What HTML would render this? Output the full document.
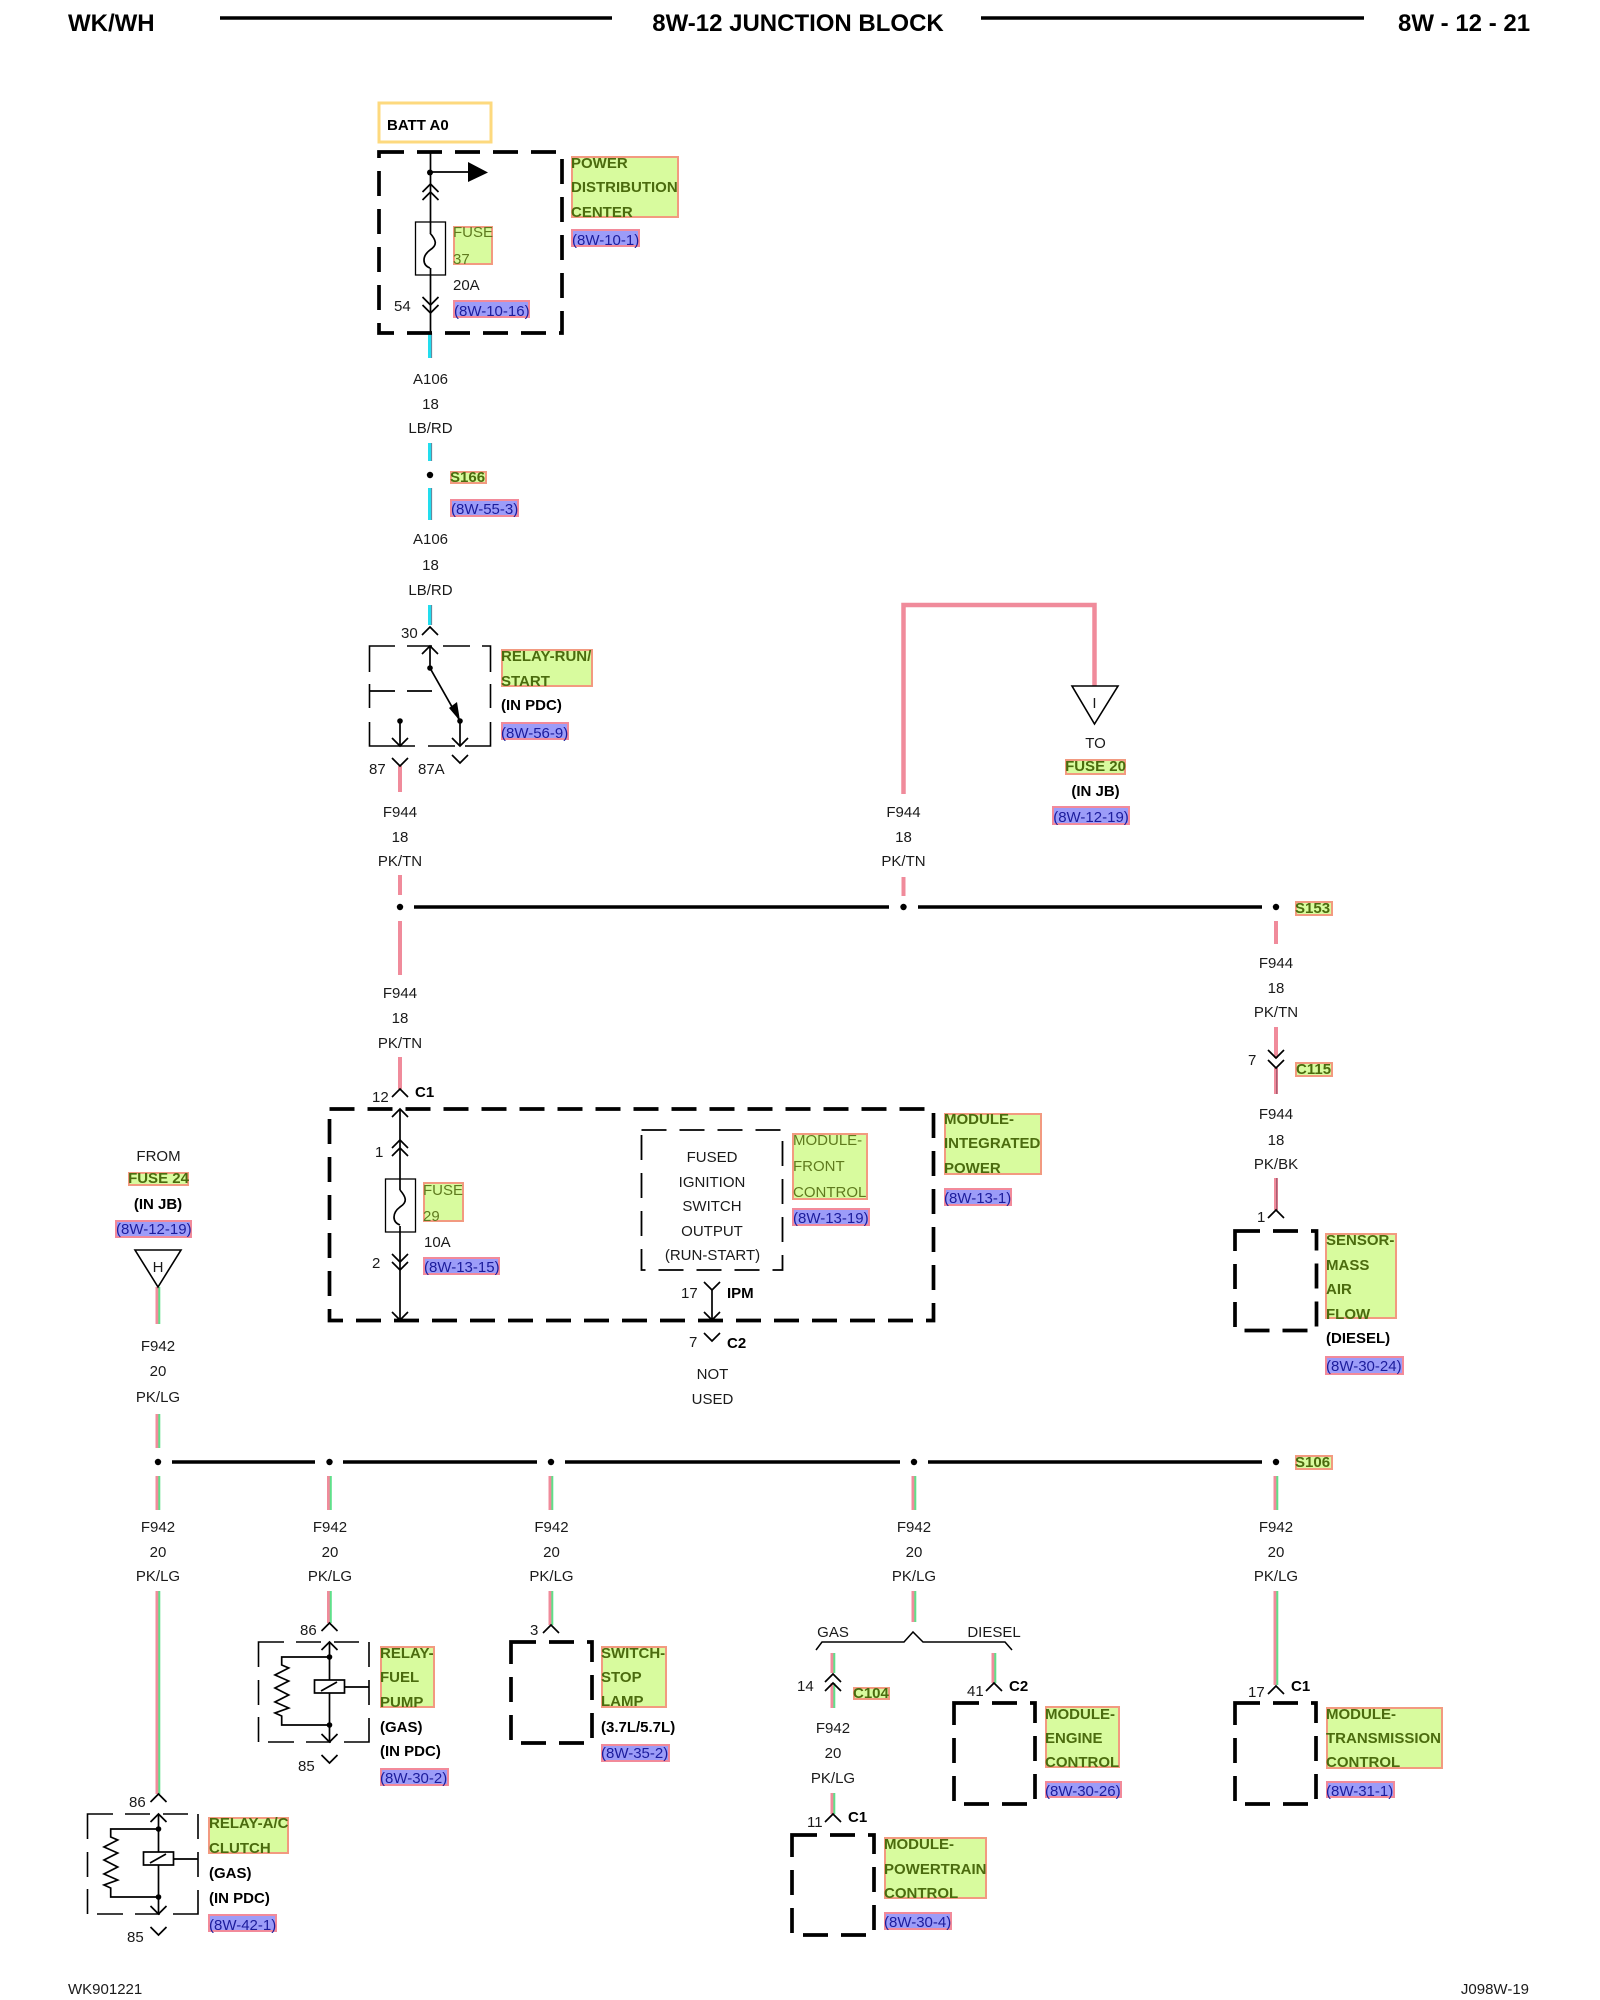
<!DOCTYPE html>
<html><head><meta charset="utf-8"><style>
html,body{margin:0;padding:0;background:#fff}
svg{display:block}
text{font-family:"Liberation Sans",sans-serif;font-size:15px;fill:#1a1a1a}
.b{font-weight:bold;fill:#000}
.c{text-anchor:middle}
.gt{fill:#4b6b0e;font-weight:bold}
.gr{fill:#5f7a1e}
.bt{fill:#1c1c9c}
.g{fill:#d8fb9e;stroke:#f29a80;stroke-width:2}
.l{fill:#9c9cf8;stroke:#f28a9a;stroke-width:2}
.h{font-size:24px;font-weight:bold;fill:#000}
.t{fill:none;stroke:#000;stroke-width:1.7}
.m{fill:none;stroke:#000;stroke-width:3.7;stroke-dasharray:25 13}
.s{fill:none;stroke:#000;stroke-width:1.6;stroke-dasharray:25 13}
.p{fill:none;stroke:#000;stroke-width:1.6}
.n{fill:#000}
</style></head><body>
<svg xmlns="http://www.w3.org/2000/svg" width="1600" height="2000" viewBox="0 0 1600 2000">
<defs>
<path id="u" d="M-8 8L0 0L8 8"/>
<path id="d" d="M-8 -8L0 0L8 -8"/>
<path id="w2" d="M158 1287V1324M158 1414V1448M158 1476V1510M158 1591V1794M329.500 1476V1510M329.500 1591V1623M551 1476V1510M551 1591V1625M914 1476V1510M914 1591V1622M1276 1476V1510M1276 1591V1685M833 1653V1673M833 1683V1708M833 1793V1814M994 1653V1683"/>
<g id="relay">
<path class="p" d="M87.500 1839V1814H113M125 1814H150M163 1814H188M198 1814V1839M198 1852V1877M198 1890V1914H173M160 1914H135M123 1914H97M87.500 1914V1889M87.500 1877V1852"/>
<path class="t" d="M158.500 1814V1852M158.500 1865V1914M158.500 1829H110.700V1837L117.700 1840L104 1847L117.700 1853L104 1860L117.700 1867L104 1874L117.700 1880L104 1885L110.700 1888V1897H158.500M173.500 1859H198M150 1863L166 1854"/>
<rect class="t" x="143.500" y="1852" width="30" height="13"/>
<circle class="n" cx="158.500" cy="1829" r="2.800"/><circle class="n" cx="158.500" cy="1897" r="2.800"/>
<g class="t"><use href="#u" x="158.500" y="1814"/><use href="#d" x="158.500" y="1914"/></g>
</g>
<g id="fuse">
<path class="t" d="M430 233C436 240 438 245 430 250C422 256 422 265 430 268"/>
<rect class="t" style="stroke-width:1.3" x="415.500" y="222" width="30" height="53"/>
</g>
</defs>

<!-- header -->
<text class="h" x="68" y="31">WK/WH</text>
<text class="h c" x="798" y="31">8W-12 JUNCTION BLOCK</text>
<text class="h" x="1398" y="31">8W - 12 - 21</text>
<path d="M220 18H612M981 18H1364" stroke="#000" stroke-width="3.500" fill="none"/>
<text x="68" y="1994" style="font-size:15px">WK901221</text>
<text x="1529" y="1994" text-anchor="end" style="font-size:15px">J098W-19</text>

<!-- wires: cyan -->
<path d="M430 333V358M430 443V461M430 488V520M430 605V625" stroke="#22ddee" stroke-width="4" fill="none"/>
<path d="M431.700 333V358M431.700 443V461M431.700 488V520M431.700 605V625" stroke="#7a6a80" stroke-width="0.800" fill="none"/>
<!-- wires: pink -->
<path d="M400 766V792M400 875V895M400 921V975M400 1057V1089M903.500 877V896M1276 921V944M1276 1027V1058M1276 1068V1094M1276 1178V1210" stroke="#f08b9b" stroke-width="4" fill="none"/>
<path d="M1276.800 1068V1094M1276.800 1178V1210" stroke="#8a4a62" stroke-width="1" fill="none"/>
<path d="M903.500 794V605H1094.500V686" stroke="#f08b9b" stroke-width="4.500" fill="none"/>
<!-- wires: pink/green -->
<use href="#w2" transform="translate(-1,0)" stroke="#f08b9b" stroke-width="3" fill="none"/>
<use href="#w2" transform="translate(1.300,0)" stroke="#5fe08a" stroke-width="2" fill="none"/>

<!-- buses -->
<path d="M414 907H889M918 907H1262M172 1462H315M343 1462H537M565 1462H900M928 1462H1262" stroke="#000" stroke-width="3.400" fill="none"/>
<g class="n">
<circle cx="400" cy="907" r="3.200"/><circle cx="903.500" cy="907" r="3.200"/><circle cx="1276" cy="907" r="3.200"/>
<circle cx="158" cy="1462" r="3.200"/><circle cx="329.500" cy="1462" r="3.200"/><circle cx="551" cy="1462" r="3.200"/><circle cx="914" cy="1462" r="3.200"/><circle cx="1276" cy="1462" r="3.200"/>
<circle cx="430" cy="475" r="3.200"/>
</g>

<!-- BATT / PDC -->
<rect x="379" y="103" width="112" height="39" fill="#fff" stroke="#fdd97e" stroke-width="3"/>
<text class="b" x="387" y="130">BATT A0</text>
<rect class="m" x="379" y="152" width="183" height="181"/>
<path class="t" d="M430.500 152V233M430.500 268V333M430.500 172H470"/>
<circle class="n" cx="430" cy="172.500" r="3"/>
<polygon class="n" points="468,162 488,172.500 468,182"/>
<g class="t"><use href="#u" x="430.500" y="184"/><use href="#u" x="430.500" y="192"/><use href="#d" x="430.500" y="305"/><use href="#d" x="430.500" y="313"/></g>
<use href="#fuse"/>
<rect class="g" x="454" y="227" width="38" height="37"/>
<text class="gr" x="453" y="237">FUSE</text><text class="gr" x="453" y="264">37</text>
<text x="453" y="290">20A</text><text x="394" y="311">54</text>
<rect class="l" x="454" y="301" width="75" height="16"/><text class="bt" x="454" y="316">(8W-10-16)</text>
<rect class="g" x="572" y="157" width="106" height="60"/>
<text class="gt" x="571" y="168">POWER</text><text class="gt" x="571" y="192">DISTRIBUTION</text><text class="gt" x="571" y="217">CENTER</text>
<rect class="l" x="572" y="230" width="67" height="16"/><text class="bt" x="572" y="245">(8W-10-1)</text>

<text class="c" x="430.500" y="384">A106</text><text class="c" x="430.500" y="409">18</text><text class="c" x="430.500" y="433">LB/RD</text>
<rect class="g" x="451" y="472" width="35" height="11"/><text class="gt" x="450" y="482">S166</text>
<rect class="l" x="451" y="500" width="67" height="16"/><text class="bt" x="451" y="514">(8W-55-3)</text>
<text class="c" x="430.500" y="544">A106</text><text class="c" x="430.500" y="570">18</text><text class="c" x="430.500" y="595">LB/RD</text>

<!-- Relay run/start -->
<path class="p" d="M369.500 672V646H395M407 646H432M443 646H470M482 646H490.500V672M490.500 684V708M490.500 722V746H465M455 746H428M415 746H369.500V722M369.500 708V684"/>
<path class="t" d="M430 646V668L460 721V746M400 721V746M370 691H395M407 691H432"/>
<polygon class="n" points="449,708 460,721 457,702"/>
<circle class="n" cx="430" cy="668" r="2.800"/><circle class="n" cx="460" cy="721" r="2.800"/><circle class="n" cx="400" cy="721" r="2.800"/>
<g class="t"><use href="#u" x="430" y="627"/><use href="#u" x="430" y="646"/><use href="#d" x="400" y="746"/><use href="#d" x="460" y="746"/><use href="#d" x="400" y="766"/><use href="#d" x="460" y="763"/></g>
<text x="401" y="638">30</text><text x="369" y="774">87</text><text x="418" y="774">87A</text>
<rect class="g" x="502" y="650" width="90" height="36"/>
<text class="gt" x="501" y="661">RELAY-RUN/</text><text class="gt" x="501" y="686">START</text>
<text class="b" x="501" y="710">(IN PDC)</text>
<rect class="l" x="502" y="723" width="66" height="16"/><text class="bt" x="501" y="738">(8W-56-9)</text>
<text class="c" x="400" y="817">F944</text><text class="c" x="400" y="842">18</text><text class="c" x="400" y="866">PK/TN</text>

<!-- top right -->
<polygon points="1072,686 1118,686 1094.500,724" fill="#fff" stroke="#000" stroke-width="1.600"/>
<text class="c" x="1094.500" y="708">I</text>
<text class="c" x="1095.500" y="748">TO</text>
<rect class="g" x="1066" y="760" width="59" height="14"/><text class="gt c" x="1095.500" y="771">FUSE 20</text>
<text class="b c" x="1095.500" y="796">(IN JB)</text>
<rect class="l" x="1053" y="807" width="76" height="17"/><text class="bt c" x="1091" y="822">(8W-12-19)</text>
<text class="c" x="903.500" y="817">F944</text><text class="c" x="903.500" y="842">18</text><text class="c" x="903.500" y="866">PK/TN</text>

<!-- S153 column -->
<rect class="g" x="1296" y="902" width="36" height="13"/><text class="gt" x="1295" y="913">S153</text>
<text class="c" x="1276" y="968">F944</text><text class="c" x="1276" y="993">18</text><text class="c" x="1276" y="1017">PK/TN</text>
<g class="t"><use href="#d" x="1276" y="1058"/><use href="#d" x="1276" y="1068"/><use href="#u" x="1276" y="1210"/></g>
<text x="1248" y="1065">7</text>
<rect class="g" x="1296" y="1063" width="36" height="13"/><text class="gt" x="1296" y="1074">C115</text>
<text class="c" x="1276" y="1119">F944</text><text class="c" x="1276" y="1145">18</text><text class="c" x="1276" y="1169">PK/BK</text>
<text x="1257" y="1222">1</text>
<rect class="m" x="1235" y="1231" width="81.500" height="99.500"/>
<rect class="g" x="1326" y="1234" width="70" height="84"/>
<text class="gt" x="1326" y="1245">SENSOR-</text><text class="gt" x="1326" y="1270">MASS</text><text class="gt" x="1326" y="1294">AIR</text><text class="gt" x="1326" y="1319">FLOW</text>
<text class="b" x="1326" y="1343">(DIESEL)</text>
<rect class="l" x="1326" y="1357" width="77" height="17"/><text class="bt" x="1326" y="1371">(8W-30-24)</text>

<!-- F944 lower -->
<text class="c" x="400" y="998">F944</text><text class="c" x="400" y="1023">18</text><text class="c" x="400" y="1048">PK/TN</text>
<text x="372" y="1102">12</text><text class="b" x="415" y="1097">C1</text>

<!-- IPM -->
<rect class="m" x="329.500" y="1109" width="604" height="211.500"/>
<path class="t" d="M400 1109V1190M400 1226V1320M712 1290V1320"/>
<g class="t"><use href="#u" x="400" y="1089"/><use href="#u" x="400" y="1109"/><use href="#u" x="400" y="1140"/><use href="#u" x="400" y="1148"/><use href="#d" x="400" y="1262"/><use href="#d" x="400" y="1270"/><use href="#d" x="400" y="1320"/><use href="#d" x="712" y="1290"/><use href="#d" x="712" y="1320"/><use href="#d" x="712" y="1341"/></g>
<use href="#fuse" transform="translate(-30,957)"/>
<text x="375" y="1157">1</text><text x="372" y="1268">2</text>
<rect class="g" x="424" y="1183" width="39" height="38"/>
<text class="gr" x="423" y="1195">FUSE</text><text class="gr" x="423" y="1221">29</text>
<text x="424" y="1247">10A</text>
<rect class="l" x="424" y="1258" width="75" height="16"/><text class="bt" x="424" y="1272">(8W-13-15)</text>
<rect class="s" x="641.500" y="1130" width="141" height="140" style="stroke-width:1.800"/>
<text class="c" x="712" y="1162">FUSED</text><text class="c" x="712" y="1187">IGNITION</text><text class="c" x="712" y="1211">SWITCH</text><text class="c" x="712" y="1236">OUTPUT</text><text class="c" x="712.500" y="1260">(RUN-START)</text>
<text x="681" y="1298">17</text><text class="b" x="727" y="1298">IPM</text>
<text x="689" y="1347">7</text><text class="b" x="727" y="1348">C2</text>
<text class="c" x="712.500" y="1379">NOT</text><text class="c" x="712.500" y="1404">USED</text>
<rect class="g" x="793" y="1134" width="74" height="65"/>
<text class="gr" x="793" y="1145">MODULE-</text><text class="gr" x="793" y="1171">FRONT</text><text class="gr" x="793" y="1197">CONTROL</text>
<rect class="l" x="793" y="1209" width="76" height="16"/><text class="bt" x="793" y="1223">(8W-13-19)</text>
<rect class="g" x="945" y="1114" width="96" height="60"/>
<text class="gt" x="944" y="1124">MODULE-</text><text class="gt" x="944" y="1148">INTEGRATED</text><text class="gt" x="944" y="1173">POWER</text>
<rect class="l" x="945" y="1189" width="66" height="16"/><text class="bt" x="944" y="1203">(8W-13-1)</text>

<!-- FROM fuse 24 -->
<text class="c" x="158.500" y="1161">FROM</text>
<rect class="g" x="129" y="1173" width="59" height="12"/><text class="gt c" x="158.500" y="1183">FUSE 24</text>
<text class="b c" x="158" y="1209">(IN JB)</text>
<rect class="l" x="116" y="1221" width="75" height="16"/><text class="bt" x="116" y="1234">(8W-12-19)</text>
<polygon points="135,1250 181,1250 158,1287" fill="#fff" stroke="#000" stroke-width="1.600"/>
<text class="c" x="158" y="1272">H</text>
<text class="c" x="158" y="1351">F942</text><text class="c" x="158" y="1376">20</text><text class="c" x="158" y="1402">PK/LG</text>
<rect class="g" x="1296" y="1456" width="36" height="13"/><text class="gt" x="1295" y="1467">S106</text>

<!-- lower labels -->
<text class="c" x="158" y="1532">F942</text><text class="c" x="158" y="1557">20</text><text class="c" x="158" y="1581">PK/LG</text>
<text class="c" x="330" y="1532">F942</text><text class="c" x="330" y="1557">20</text><text class="c" x="330" y="1581">PK/LG</text>
<text class="c" x="551.500" y="1532">F942</text><text class="c" x="551.500" y="1557">20</text><text class="c" x="551.500" y="1581">PK/LG</text>
<text class="c" x="914" y="1532">F942</text><text class="c" x="914" y="1557">20</text><text class="c" x="914" y="1581">PK/LG</text>
<text class="c" x="1276" y="1532">F942</text><text class="c" x="1276" y="1557">20</text><text class="c" x="1276" y="1581">PK/LG</text>

<!-- relay A/C -->
<use href="#relay"/>
<g class="t"><use href="#u" x="158.500" y="1794"/><use href="#d" x="158.500" y="1935"/></g>
<text x="129" y="1807">86</text><text x="127" y="1942">85</text>
<rect class="g" x="209" y="1818" width="79" height="35"/>
<text class="gt" x="209" y="1828">RELAY-A/C</text><text class="gt" x="209" y="1853">CLUTCH</text>
<text class="b" x="209" y="1878">(GAS)</text><text class="b" x="209" y="1903">(IN PDC)</text>
<rect class="l" x="209" y="1915" width="67" height="16"/><text class="bt" x="209" y="1930">(8W-42-1)</text>

<!-- relay fuel pump -->
<use href="#relay" transform="translate(171,-172)"/>
<g class="t"><use href="#u" x="329.500" y="1623"/><use href="#d" x="329.500" y="1763"/></g>
<text x="300" y="1635">86</text><text x="298" y="1771">85</text>
<rect class="g" x="381" y="1647" width="53" height="60"/>
<text class="gt" x="380" y="1658">RELAY-</text><text class="gt" x="380" y="1682">FUEL</text><text class="gt" x="380" y="1707">PUMP</text>
<text class="b" x="380" y="1732">(GAS)</text><text class="b" x="380" y="1756">(IN PDC)</text>
<rect class="l" x="381" y="1769" width="67" height="16"/><text class="bt" x="380" y="1783">(8W-30-2)</text>

<!-- switch stop lamp -->
<g class="t"><use href="#u" x="551" y="1625"/></g>
<text x="530" y="1635">3</text>
<rect class="m" x="511" y="1642" width="81" height="101"/>
<rect class="g" x="602" y="1647" width="64" height="60"/>
<text class="gt" x="601" y="1658">SWITCH-</text><text class="gt" x="601" y="1682">STOP</text><text class="gt" x="601" y="1706">LAMP</text>
<text class="b" x="601" y="1732">(3.7L/5.7L)</text>
<rect class="l" x="602" y="1745" width="67" height="16"/><text class="bt" x="601" y="1758">(8W-35-2)</text>

<!-- split gas/diesel -->
<path class="t" style="stroke-width:1.500" d="M816 1650L822 1642H904L913 1632L923 1642H1005L1012 1650"/>
<text class="c" x="833" y="1637">GAS</text><text class="c" x="994" y="1637">DIESEL</text>
<g class="t"><use href="#u" x="833" y="1674"/><use href="#u" x="833" y="1683"/><use href="#u" x="833" y="1814"/><use href="#u" x="994" y="1683"/><use href="#u" x="1276" y="1686"/></g>
<text x="797" y="1691">14</text>
<rect class="g" x="854" y="1688" width="35" height="11"/><text class="gt" x="853" y="1698">C104</text>
<text class="c" x="833" y="1733">F942</text><text class="c" x="833" y="1758">20</text><text class="c" x="833" y="1783">PK/LG</text>
<text x="807" y="1827">11</text><text class="b" x="848" y="1822">C1</text>
<rect class="m" x="792" y="1835" width="82" height="100"/>
<rect class="g" x="885" y="1838" width="101" height="60"/>
<text class="gt" x="884" y="1849">MODULE-</text><text class="gt" x="884" y="1874">POWERTRAIN</text><text class="gt" x="884" y="1898">CONTROL</text>
<rect class="l" x="885" y="1913" width="66" height="16"/><text class="bt" x="884" y="1927">(8W-30-4)</text>

<text x="967" y="1696">41</text><text class="b" x="1009" y="1691">C2</text>
<rect class="m" x="954" y="1703" width="81" height="101"/>
<rect class="g" x="1046" y="1707" width="73" height="60"/>
<text class="gt" x="1045" y="1719">MODULE-</text><text class="gt" x="1045" y="1743">ENGINE</text><text class="gt" x="1045" y="1767">CONTROL</text>
<rect class="l" x="1046" y="1782" width="75" height="15"/><text class="bt" x="1045" y="1796">(8W-30-26)</text>

<text x="1248" y="1697">17</text><text class="b" x="1291" y="1691">C1</text>
<rect class="m" x="1235" y="1703" width="81" height="101"/>
<rect class="g" x="1327" y="1708" width="115" height="60"/>
<text class="gt" x="1326" y="1719">MODULE-</text><text class="gt" x="1326" y="1743">TRANSMISSION</text><text class="gt" x="1326" y="1767">CONTROL</text>
<rect class="l" x="1327" y="1782" width="67" height="15"/><text class="bt" x="1326" y="1796">(8W-31-1)</text>
</svg>
</body></html>
